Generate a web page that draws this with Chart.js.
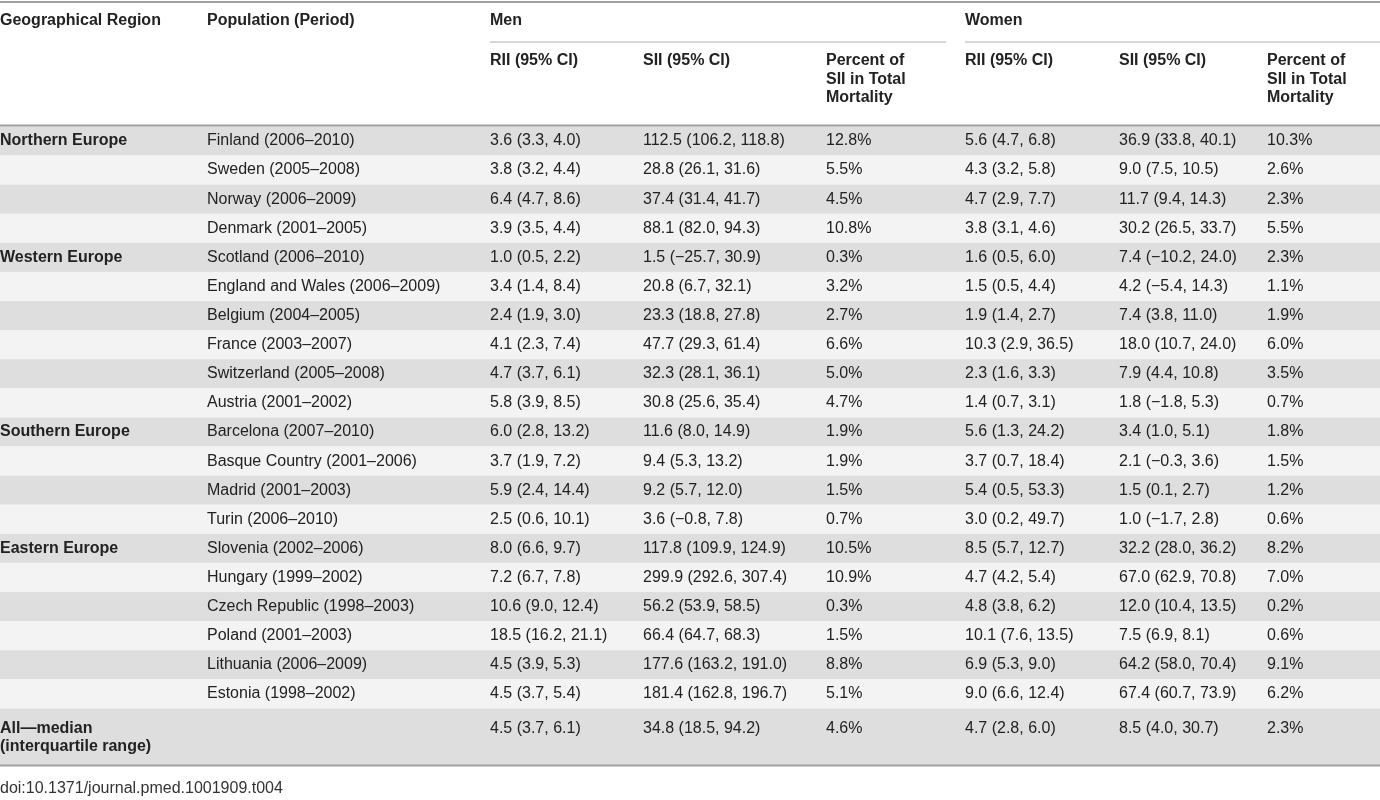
<!DOCTYPE html>
<html><head><meta charset="utf-8">
<script src="https://cdn.jsdelivr.net/npm/chart.js@4"></script>
<style>html,body{margin:0;padding:0;background:#fff}#c{display:block}</style>
</head><body><div style="width:1380px;height:800px"><canvas id="c"></canvas></div>
<script>
const regions = ["Northern Europe","","","","Western Europe","","","","","","Southern Europe","","","","Eastern Europe","","","","",""];
const populations = ["Finland (2006–2010)","Sweden (2005–2008)","Norway (2006–2009)","Denmark (2001–2005)","Scotland (2006–2010)","England and Wales (2006–2009)","Belgium (2004–2005)","France (2003–2007)","Switzerland (2005–2008)","Austria (2001–2002)","Barcelona (2007–2010)","Basque Country (2001–2006)","Madrid (2001–2003)","Turin (2006–2010)","Slovenia (2002–2006)","Hungary (1999–2002)","Czech Republic (1998–2003)","Poland (2001–2003)","Lithuania (2006–2009)","Estonia (1998–2002)"];
const menRII = ["3.6 (3.3, 4.0)","3.8 (3.2, 4.4)","6.4 (4.7, 8.6)","3.9 (3.5, 4.4)","1.0 (0.5, 2.2)","3.4 (1.4, 8.4)","2.4 (1.9, 3.0)","4.1 (2.3, 7.4)","4.7 (3.7, 6.1)","5.8 (3.9, 8.5)","6.0 (2.8, 13.2)","3.7 (1.9, 7.2)","5.9 (2.4, 14.4)","2.5 (0.6, 10.1)","8.0 (6.6, 9.7)","7.2 (6.7, 7.8)","10.6 (9.0, 12.4)","18.5 (16.2, 21.1)","4.5 (3.9, 5.3)","4.5 (3.7, 5.4)"];
const menSII = ["112.5 (106.2, 118.8)","28.8 (26.1, 31.6)","37.4 (31.4, 41.7)","88.1 (82.0, 94.3)","1.5 (−25.7, 30.9)","20.8 (6.7, 32.1)","23.3 (18.8, 27.8)","47.7 (29.3, 61.4)","32.3 (28.1, 36.1)","30.8 (25.6, 35.4)","11.6 (8.0, 14.9)","9.4 (5.3, 13.2)","9.2 (5.7, 12.0)","3.6 (−0.8, 7.8)","117.8 (109.9, 124.9)","299.9 (292.6, 307.4)","56.2 (53.9, 58.5)","66.4 (64.7, 68.3)","177.6 (163.2, 191.0)","181.4 (162.8, 196.7)"];
const menPct = ["12.8%","5.5%","4.5%","10.8%","0.3%","3.2%","2.7%","6.6%","5.0%","4.7%","1.9%","1.9%","1.5%","0.7%","10.5%","10.9%","0.3%","1.5%","8.8%","5.1%"];
const womenRII = ["5.6 (4.7, 6.8)","4.3 (3.2, 5.8)","4.7 (2.9, 7.7)","3.8 (3.1, 4.6)","1.6 (0.5, 6.0)","1.5 (0.5, 4.4)","1.9 (1.4, 2.7)","10.3 (2.9, 36.5)","2.3 (1.6, 3.3)","1.4 (0.7, 3.1)","5.6 (1.3, 24.2)","3.7 (0.7, 18.4)","5.4 (0.5, 53.3)","3.0 (0.2, 49.7)","8.5 (5.7, 12.7)","4.7 (4.2, 5.4)","4.8 (3.8, 6.2)","10.1 (7.6, 13.5)","6.9 (5.3, 9.0)","9.0 (6.6, 12.4)"];
const womenSII = ["36.9 (33.8, 40.1)","9.0 (7.5, 10.5)","11.7 (9.4, 14.3)","30.2 (26.5, 33.7)","7.4 (−10.2, 24.0)","4.2 (−5.4, 14.3)","7.4 (3.8, 11.0)","18.0 (10.7, 24.0)","7.9 (4.4, 10.8)","1.8 (−1.8, 5.3)","3.4 (1.0, 5.1)","2.1 (−0.3, 3.6)","1.5 (0.1, 2.7)","1.0 (−1.7, 2.8)","32.2 (28.0, 36.2)","67.0 (62.9, 70.8)","12.0 (10.4, 13.5)","7.5 (6.9, 8.1)","64.2 (58.0, 70.4)","67.4 (60.7, 73.9)"];
const womenPct = ["10.3%","2.6%","2.3%","5.5%","2.3%","1.1%","1.9%","6.0%","3.5%","0.7%","1.8%","1.5%","1.2%","0.6%","8.2%","7.0%","0.2%","0.6%","9.1%","6.2%"];
const summaryLabel = ["All—median","(interquartile range)"];
const summaryRow = ["4.5 (3.7, 6.1)","34.8 (18.5, 94.2)","4.6%","4.7 (2.8, 6.0)","8.5 (4.0, 30.7)","2.3%"];
const groupHeaders = ["Men","Women"];
const subHeaders = ["RII (95% CI)","SII (95% CI)",["Percent of","SII in Total","Mortality"]];
const doiText = "doi:10.1371/journal.pmed.1001909.t004";

const colX = [0,207,490,643,826,965,1119,1267];
const F = '"Liberation Sans", Arial, sans-serif';

const tablePlugin = {
  id:'table',
  beforeDatasetsDraw(chart){
    const {ctx, scales:{x,y}} = chart;
    const px = v=>x.getPixelForValue(v), py = v=>y.getPixelForValue(v);
    const L = px(0), R = px(1380);
    ctx.save();
    // stripes
    for(let i=0;i<populations.length;i++){
      ctx.fillStyle = i%2===0 ? '#dedede' : '#f3f3f3';
      ctx.fillRect(L, py(i-0.5), R-L, py(i+0.5)-py(i-0.5));
    }
    ctx.fillStyle='#dedede';
    ctx.fillRect(L, py(19.5), R-L, py(21.46)-py(19.5));
    // lines
    ctx.strokeStyle='#a0a0a0';
    ctx.lineWidth=2;
    [[-4.78],[-0.53],[21.46]].forEach(([v])=>{ctx.beginPath();ctx.moveTo(L,py(v));ctx.lineTo(R,py(v));ctx.stroke();});
    ctx.lineWidth=1;
    ctx.strokeStyle='#b0b0b0';
    ctx.beginPath();ctx.moveTo(px(490),py(-3.4));ctx.lineTo(px(946),py(-3.4));ctx.stroke();
    ctx.beginPath();ctx.moveTo(px(965),py(-3.4));ctx.lineTo(R,py(-3.4));ctx.stroke();
    // header text
    ctx.fillStyle='#222';
    ctx.textBaseline='middle';
    ctx.font='bold 16px '+F;
    ctx.fillText('Geographical Region', px(colX[0]), py(-4.13));
    ctx.fillText('Population (Period)', px(colX[1]), py(-4.13));
    ctx.fillText(groupHeaders[0], px(colX[2]), py(-4.13));
    ctx.fillText(groupHeaders[1], px(colX[5]), py(-4.13));
    [0,3].forEach(off=>{
      ctx.fillText(subHeaders[0], px(colX[2+off]), py(-2.75));
      ctx.fillText(subHeaders[1], px(colX[3+off]), py(-2.75));
      subHeaders[2].forEach((t,k)=>ctx.fillText(t, px(colX[4+off]), py(-2.75+k*0.63)));
    });
    // body
    const cols=[menRII,menSII,menPct,womenRII,womenSII,womenPct];
    for(let i=0;i<populations.length;i++){
      const yy=py(i);
      if(regions[i]){ctx.font='bold 16px '+F;ctx.fillText(regions[i],px(colX[0]),yy);}
      ctx.font='16px '+F;
      ctx.fillText(populations[i],px(colX[1]),yy);
      cols.forEach((c,k)=>ctx.fillText(c[i],px(colX[2+k]),yy));
    }
    const sy=20.19;
    ctx.font='bold 16px '+F;
    summaryLabel.forEach((t,k)=>ctx.fillText(t,px(colX[0]),py(sy+k*0.63)));
    ctx.font='16px '+F;
    summaryRow.forEach((t,k)=>ctx.fillText(t,px(colX[2+k]),py(sy)));
    ctx.font='16px "Liberation Sans Narrow", "Liberation Sans", sans-serif';
    ctx.fillStyle='#333';
    ctx.fillText(doiText, px(0), py(22.24));
    ctx.restore();
  }
};

new Chart(document.getElementById('c'),{
  type:'scatter',
  data:{datasets:[{data:[],pointRadius:0}]},
  options:{
    responsive:true, maintainAspectRatio:false, animation:false,
    layout:{padding:0},
    plugins:{legend:{display:false},tooltip:{enabled:false}},
    scales:{
      x:{type:'linear',min:0,max:1380,display:false},
      y:{type:'linear',min:-4.845,max:22.646,reverse:true,display:false}
    }
  },
  plugins:[tablePlugin]
});
</script></body></html>
